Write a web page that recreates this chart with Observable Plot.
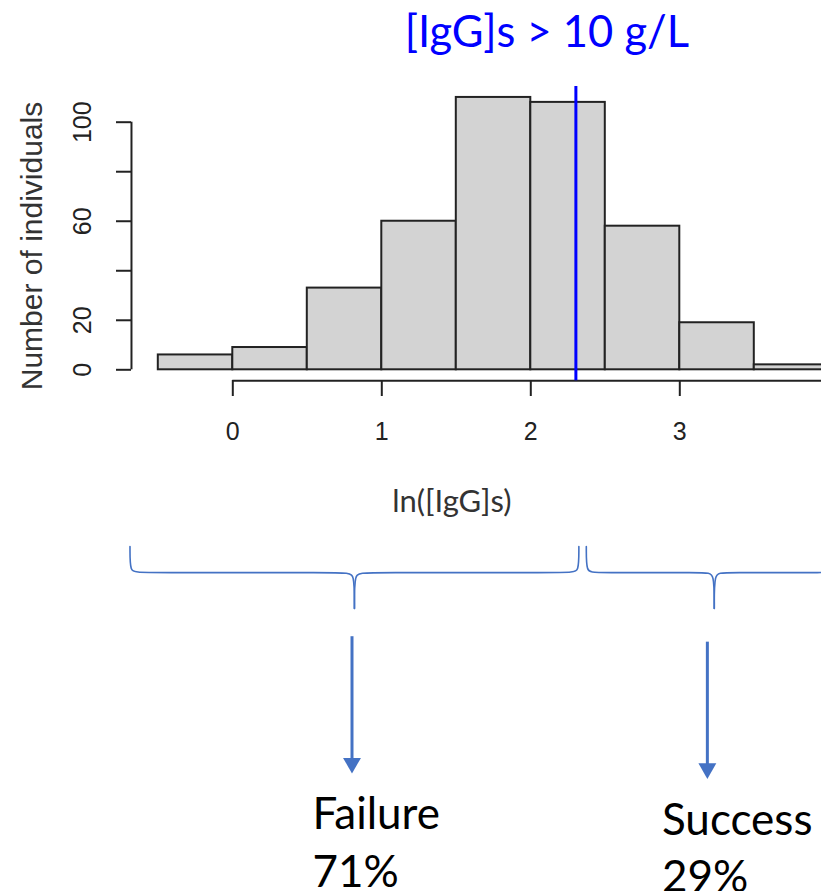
<!DOCTYPE html>
<html><head><meta charset="utf-8">
<script src="https://cdn.jsdelivr.net/npm/d3@7"></script>
<script src="https://cdn.jsdelivr.net/npm/@observablehq/plot@0.6"></script>
<style>
html,body{margin:0;padding:0;background:#fff;overflow:hidden}
#chart{width:821px;height:891px;overflow:hidden}
</style></head><body><div id="chart"></div>
<script>
// ---- data ----
const binStarts = [-0.5, 0, 0.5, 1, 1.5, 2, 2.5, 3, 3.5];
const binWidth = 0.5;
const counts = [6, 9, 33, 60, 110, 108, 58, 19, 2];
const xTicks = [0, 1, 2, 3, 4];
const yTicks = [0, 20, 40, 60, 80, 100];
const yTickLabels = [0, 20, 60, 100];
const threshold = Math.log(10); // 10 g/L
const thresholdLabel = "[IgG]s > 10 g/L";
const xLabel = "ln([IgG]s)";
const yLabel = "Number of individuals";
const outcomes = ["Failure", "Success"];
const outcomePct = [71, 29];
// annotation layout (in x data units / count units below the axis)
const braceStart = [-0.69, threshold + 0.07];
const braceEnd = [threshold + 0.02, 4.09];
const arrowX = [0.80, 3.185];
const arrowTop = [-107.8, -110.0];
const arrowTip = [-163.0, -165.2];
const textX = [0.535, 2.88];
const nameTop = [-172.7, -175.2];
const pctTop = [-196.1, -198.1];

// ---- derived tables ----
const bins = binStarts.map((s, i) => ({x0: s, x1: s + binWidth, count: counts[i]}));
const xLo = binStarts[0], xHi = binStarts[binStarts.length - 1] + binWidth;
const yMax = d3.max(counts);
const xPad = 0.04 * (xHi - xLo), yPad = 0.04 * yMax;   // R's 4% axis offset
const yAxisX = xLo - xPad;

const braceTop = -71.4, braceMid = -81.9, braceTipY = -96.4, e = 0.05;
const bracePts = [];
outcomes.forEach((o, i) => {
  const a = braceStart[i], b = braceEnd[i], m = (a + b) / 2;
  const left = [[a, braceTop], [a, braceTop], [a, braceMid], [a + e, braceMid], [m - e, braceMid], [m, braceMid], [m, braceTipY], [m, braceTipY]];
  const right = [[b, braceTop], [b, braceTop], [b, braceMid], [b - e, braceMid], [m + e, braceMid], [m, braceMid], [m, braceTipY], [m, braceTipY]];
  left.forEach(p => bracePts.push({id: o + "L", x: p[0], y: p[1]}));
  right.forEach(p => bracePts.push({id: o + "R", x: p[0], y: p[1]}));
});
const ann = outcomes.map((o, i) => ({
  name: o, pct: outcomePct[i] + "%", ax: arrowX[i], aTop: arrowTop[i], aTip: arrowTip[i],
  tx: textX[i], nTop: nameTop[i], pTop: pctTop[i]
}));

const blue = "#4472C4";
const rFont = "Liberation Sans, Arial, sans-serif";
const oFont = "Lato, 'Open Sans', sans-serif";

const chart = Plot.plot({
  width: 821,
  height: 891,
  marginLeft: 131,
  marginBottom: 511,
  marginTop: 0,
  marginRight: 0,
  style: {background: "white", color: "#222", overflow: "hidden"},
  x: {domain: [xLo, xHi], range: [157.8, 828.3]},
  y: {domain: [0, 100], range: [369.3, 121.7]},
  marks: [
    Plot.rect(bins, {x1: "x0", x2: "x1", y1: 0, y2: "count", fill: "#d3d3d3", stroke: "#222", strokeWidth: 2}),
    // y axis
    Plot.ruleX([yAxisX], {y1: 0, y2: 100, stroke: "#222", strokeWidth: 2}),
    Plot.axisY({ticks: yTicks, tickSize: 15, tickFormat: () => "", strokeWidth: 2, label: null}),
    Plot.text(yTickLabels, {y: d => d, text: d => String(d), frameAnchor: "left", dx: -49, rotate: -90,
      textAnchor: "middle", lineAnchor: "middle", fontSize: 25, fontFamily: rFont, fill: "#222"}),
    Plot.text([yLabel], {y: 50, text: d => d, frameAnchor: "left", dx: -99, rotate: -90,
      textAnchor: "middle", lineAnchor: "middle", fontSize: 30, fontFamily: rFont, fill: "#333"}),
    // x axis
    Plot.ruleY([-yPad], {x1: xTicks[0], x2: xTicks[xTicks.length - 1], stroke: "#222", strokeWidth: 2}),
    Plot.axisX({ticks: xTicks, tickFormat: d => String(d), tickSize: 16, tickPadding: 26, fontSize: 25, fontFamily: rFont, strokeWidth: 2, label: null}),
    Plot.text([xLabel], {x: 1.47, y: -53.4, text: d => d, textAnchor: "middle", lineAnchor: "middle",
      fontSize: 31, fontFamily: oFont, fill: "#333"}),
    // threshold
    Plot.ruleX([threshold], {y1: -yPad, y2: yMax + yPad, stroke: "#0000ff", strokeWidth: 3}),
    Plot.text([thresholdLabel], {x: threshold, y: 136.1, dx: -29, text: d => d, textAnchor: "middle",
      lineAnchor: "middle", fontSize: 43.5, fontFamily: oFont, fill: "#0000ff"}),
    // braces
    Plot.line(bracePts, {x: "x", y: "y", z: "id", curve: "basis", stroke: blue, strokeWidth: 1.6}),
    // arrows
    Plot.ruleX(ann, {x: "ax", y1: "aTop", y2: d => d.aTip + 5, stroke: blue, strokeWidth: 3}),
    Plot.dot(ann, {x: "ax", y: "aTip", dy: -10.3, symbol: "triangle", rotate: 180, r: 6.65, fill: blue, stroke: "none"}),
    // outcome labels
    Plot.text(ann, {x: "tx", y: "nTop", text: "name", textAnchor: "start", lineAnchor: "top", fontSize: 44, fontFamily: oFont, fill: "#000"}),
    Plot.text(ann, {x: "tx", y: "pTop", text: "pct", textAnchor: "start", lineAnchor: "top", fontSize: 44, fontFamily: oFont, fill: "#000"})
  ]
});
document.getElementById("chart").appendChild(chart);
</script></body></html>
